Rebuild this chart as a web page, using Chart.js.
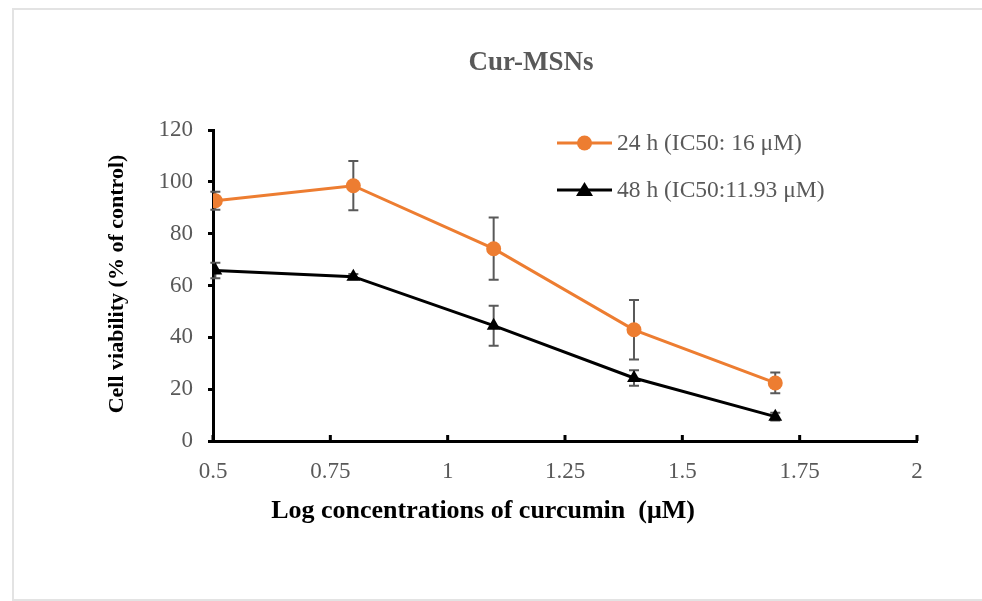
<!DOCTYPE html>
<html>
<head>
<meta charset="utf-8">
<script src="https://cdn.jsdelivr.net/npm/chart.js@4.4.1/dist/chart.umd.min.js"></script>
<style>
  html, body { margin: 0; padding: 0; background: #fff; }
  #wrap { position: relative; width: 982px; height: 601px; }
  #frame { position: absolute; left: 12px; top: 8px; right: -2px; bottom: 0; border: 2px solid #e3e3e3; border-right: none; }
</style>
</head>
<body>
<div id="wrap">
  <div id="frame"></div>
  <canvas id="chart" width="982" height="601"></canvas>
</div>
<script>
// log10 of curcumin concentration
const logConc = [0.505, 0.799, 1.098, 1.397, 1.698];
const viability24 = [92.7, 98.5, 74.2, 42.9, 22.4];
const error24 = [3.5, 9.5, 12.0, 11.5, 4.0];
const viability48 = [65.8, 63.4, 44.5, 24.3, 9.4];
const error48 = [3.0, 1.0, 7.7, 3.0, 1.5];
const xTickLabels = ['0.5', '0.75', '1', '1.25', '1.5', '1.75', '2'];
const yTickLabels = ['0', '20', '40', '60', '80', '100', '120'];
const seriesLabels = ['24 h (IC50: 16 \u03bcM)', '48 h (IC50:11.93 \u03bcM)'];

const SERIF = '"Liberation Serif", "Times New Roman", serif';
const ORANGE = '#ed7d31';
const GRAY = '#595959';

const toPoints = (ys) => ys.map((y, i) => ({ x: logConc[i], y: y }));

// error bars drawn under the lines
const errorBars = {
  id: 'errorBars',
  beforeDatasetsDraw(chart) {
    const { ctx, scales: { x, y } } = chart;
    ctx.save();
    ctx.strokeStyle = GRAY;
    ctx.lineWidth = 2;
    chart.data.datasets.forEach((ds) => {
      ds.data.forEach((p, i) => {
        const px = x.getPixelForValue(p.x);
        const top = y.getPixelForValue(p.y + ds.errors[i]);
        const bot = y.getPixelForValue(p.y - ds.errors[i]);
        ctx.beginPath();
        ctx.moveTo(px, top); ctx.lineTo(px, bot);
        ctx.moveTo(px - 5, top); ctx.lineTo(px + 5, top);
        ctx.moveTo(px - 5, bot); ctx.lineTo(px + 5, bot);
        ctx.stroke();
      });
    });
    ctx.restore();
  }
};

// inward tick marks on the x axis, titles and legend
const decorations = {
  id: 'decorations',
  afterDraw(chart) {
    const { ctx, chartArea, scales: { x } } = chart;
    ctx.save();
    ctx.strokeStyle = '#000';
    ctx.lineWidth = 3;
    x.ticks.forEach((t) => {
      const px = x.getPixelForValue(t.value);
      ctx.beginPath();
      ctx.moveTo(px, chartArea.bottom);
      ctx.lineTo(px, chartArea.bottom - 6);
      ctx.stroke();
    });

    ctx.textAlign = 'center';
    ctx.textBaseline = 'middle';
    ctx.fillStyle = GRAY;
    ctx.font = 'bold 27px ' + SERIF;
    ctx.fillText('Cur-MSNs', 531, 63);

    ctx.fillStyle = '#000';
    ctx.font = 'bold 26px ' + SERIF;
    ctx.fillText('Log concentrations of curcumin  (\u03bcM)', 483, 511);

    ctx.save();
    ctx.translate(117, 284);
    ctx.rotate(-Math.PI / 2);
    ctx.font = 'bold 22px ' + SERIF;
    ctx.fillText('Cell viability (% of control)', 0, 0);
    ctx.restore();

    // legend
    const rows = [143, 190];
    chart.data.datasets.forEach((ds, i) => {
      const yy = rows[i];
      ctx.strokeStyle = ds.borderColor;
      ctx.lineWidth = 3;
      ctx.beginPath();
      ctx.moveTo(557, yy); ctx.lineTo(612, yy);
      ctx.stroke();
      ctx.fillStyle = ds.pointBackgroundColor;
      ctx.beginPath();
      if (ds.pointStyle === 'circle') {
        ctx.arc(584.5, yy, 7.5, 0, Math.PI * 2);
      } else {
        ctx.moveTo(584.5, yy - 8); ctx.lineTo(593, yy + 6); ctx.lineTo(576, yy + 6); ctx.closePath();
      }
      ctx.fill();
      ctx.fillStyle = GRAY;
      ctx.font = '23.5px ' + SERIF;
      ctx.textAlign = 'left';
      ctx.fillText(ds.label, 617, yy + 1);
    });
    ctx.restore();
  }
};

new Chart(document.getElementById('chart'), {
  type: 'line',
  data: {
    datasets: [
      {
        label: seriesLabels[0],
        data: toPoints(viability24),
        errors: error24,
        borderColor: ORANGE,
        borderWidth: 3,
        pointStyle: 'circle',
        pointRadius: 7.5,
        pointBackgroundColor: ORANGE,
        pointBorderColor: ORANGE,
        pointBorderWidth: 0
      },
      {
        label: seriesLabels[1],
        data: toPoints(viability48),
        errors: error48,
        borderColor: '#000',
        borderWidth: 3,
        pointStyle: 'triangle',
        pointRadius: 8,
        pointBackgroundColor: '#000',
        pointBorderColor: '#000',
        pointBorderWidth: 0
      }
    ]
  },
  options: {
    responsive: false,
    animation: false,
    layout: { padding: { top: 130, right: 65, bottom: 0, left: 12 } },
    plugins: {
      legend: { display: false },
      title: { display: false },
      tooltip: { enabled: false }
    },
    scales: {
      x: {
        type: 'linear',
        min: 0.5,
        max: 2,
        afterFit: (s) => { s.height = 160; },
        afterBuildTicks: (s) => { s.ticks = xTickLabels.map((l) => ({ value: parseFloat(l) })); },
        ticks: {
          color: GRAY,
          padding: 17,
          font: { family: SERIF, size: 23 },
          callback: (v, i) => xTickLabels[i]
        },
        grid: { display: true, drawOnChartArea: false, drawTicks: false },
        border: { color: '#000', width: 3 }
      },
      y: {
        min: 0,
        max: 120,
        afterFit: (s) => { s.width = 201; },
        afterBuildTicks: (s) => { s.ticks = yTickLabels.map((l) => ({ value: parseFloat(l) })); },
        ticks: {
          color: GRAY,
          padding: 15,
          font: { family: SERIF, size: 23 },
          callback: (v, i) => yTickLabels[i]
        },
        grid: { drawOnChartArea: false, drawTicks: true, tickLength: 5, tickColor: '#000', tickWidth: 3 },
        border: { color: '#000', width: 3 }
      }
    }
  },
  plugins: [errorBars, decorations]
});
</script>
</body>
</html>
